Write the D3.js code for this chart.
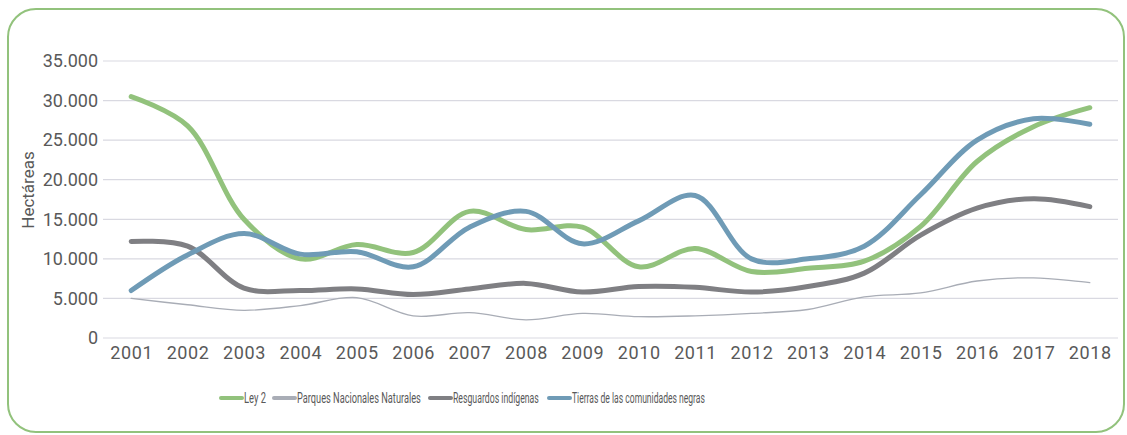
<!DOCTYPE html>
<html>
<head>
<meta charset="utf-8">
<script src="https://cdn.jsdelivr.net/npm/d3@7"></script>
<style>
  body { margin: 0; background: #fff; }
  text { font-family: Roboto, "Noto Sans", sans-serif; fill: #595959; }
</style>
</head>
<body>
<div class="chart"></div>
<script>
// data
const years = ["2001","2002","2003","2004","2005","2006","2007","2008","2009","2010","2011","2012","2013","2014","2015","2016","2017","2018"];
const ley2 = [30500, 26800, 15000, 10000, 11800, 10800, 16000, 13700, 14000, 9000, 11300, 8400, 8800, 9700, 14100, 22300, 26700, 29100];
const parques = [5000, 4200, 3500, 4100, 5100, 2800, 3200, 2300, 3100, 2700, 2800, 3100, 3600, 5200, 5700, 7200, 7600, 7000];
const resguardos = [12200, 11600, 6300, 6000, 6200, 5500, 6200, 6900, 5800, 6500, 6400, 5800, 6500, 8200, 13000, 16400, 17600, 16600];
const tierras = [6000, 10500, 13200, 10600, 10900, 9000, 14000, 16000, 11900, 14800, 18000, 10000, 10000, 11600, 18100, 25000, 27700, 27000];
const yTicks = [0, 5000, 10000, 15000, 20000, 25000, 30000, 35000];
const seriesNames = ["Ley 2", "Parques Nacionales Naturales", "Resguardos indígenas", "Tierras de las comunidades negras"];

const series = [
  { name: seriesNames[0], values: ley2, color: "#92c27c", width: 5 },
  { name: seriesNames[1], values: parques, color: "#a9adb6", width: 1.3 },
  { name: seriesNames[2], values: resguardos, color: "#7f7f83", width: 5 },
  { name: seriesNames[3], values: tierras, color: "#6f9bb6", width: 5 }
];

const W = 1127, H = 435;
const margin = ({ top: 61, right: 9, bottom: 97, left: 103 });
const width = W - margin.left - margin.right,
    height = H - margin.top - margin.bottom;

const svg = d3.select(".chart").append("svg")
    .attr("width", W)
    .attr("height", H);

// rounded green frame
svg.append("rect")
    .attr("x", 8).attr("y", 9)
    .attr("width", 1116).attr("height", 423)
    .attr("rx", 28)
    .attr("fill", "none")
    .attr("stroke", "#92c27c")
    .attr("stroke-width", 2);

const xScale = d3.scalePoint()
    .domain(years)
    .range([0, width])
    .padding(0.5);
const yScale = d3.scaleLinear()
    .domain([0, 35000])
    .range([height, 0]);

const g = svg.append("g")
    .attr("transform", `translate(${margin.left},${margin.top})`);

// gridlines
g.selectAll(".grid")
    .data(yTicks)
    .enter().append("line")
    .attr("class", "grid")
    .attr("x1", 0).attr("x2", width)
    .attr("y1", d => yScale(d)).attr("y2", d => yScale(d))
    .attr("stroke", "#d9d9e1")
    .attr("stroke-width", 1.2);

const fmt = d3.formatLocale({ decimal: ",", thousands: ".", grouping: [3], currency: ["", ""] }).format(",");

const yAxis = d3.axisLeft(yScale).tickValues(yTicks).tickFormat(fmt).tickSize(0).tickPadding(5);
g.append("g").attr("class", "axis y-axis").call(yAxis)
    .call(s => s.select(".domain").remove())
    .selectAll("text")
    .style("font-size", "18px")
    .attr("fill", "#595959");

const xAxis = d3.axisBottom(xScale).tickSize(0).tickPadding(8);
g.append("g").attr("class", "axis x-axis")
    .attr("transform", `translate(0,${height})`)
    .call(xAxis)
    .call(s => s.select(".domain").remove())
    .selectAll("text")
    .style("font-size", "18px")
    .style("letter-spacing", "0.6px")
    .attr("fill", "#595959");

// y axis title
svg.append("text")
    .attr("transform", "translate(34,190) rotate(-90)")
    .attr("text-anchor", "middle")
    .style("font-size", "17px")
    .text("Hectáreas");

// lines
const line = d3.line()
    .x((d, i) => xScale(years[i]))
    .y(d => yScale(d))
    .curve(d3.curveCatmullRom.alpha(0.5));

g.selectAll(".series")
    .data(series)
    .enter().append("path")
    .attr("class", "series")
    .attr("d", d => line(d.values))
    .attr("fill", "none")
    .attr("stroke", d => d.color)
    .attr("stroke-width", d => d.width)
    .attr("stroke-linecap", "round")
    .attr("stroke-linejoin", "round");

// legend (condensed look: squeeze text horizontally)
const legendX = [220, 273, 429, 548];
const legendW = [22, 124, 86, 133];
const legend = svg.append("g").attr("class", "legend");
const item = legend.selectAll("g")
    .data(series)
    .enter().append("g")
    .attr("transform", (d, i) => `translate(${legendX[i]},398)`);
item.append("line")
    .attr("x1", 1).attr("x2", 22)
    .attr("y1", 0).attr("y2", 0)
    .attr("stroke", d => d.color)
    .attr("stroke-width", 4)
    .attr("stroke-linecap", "round");
item.append("text")
    .attr("y", 5)
    .style("font-size", "15px")
    .text(d => d.name)
    .attr("transform", function(d, i) {
        const k = legendW[i] / this.getComputedTextLength();
        return `translate(24,0) scale(${k},1)`;
    });
</script>
</body>
</html>
